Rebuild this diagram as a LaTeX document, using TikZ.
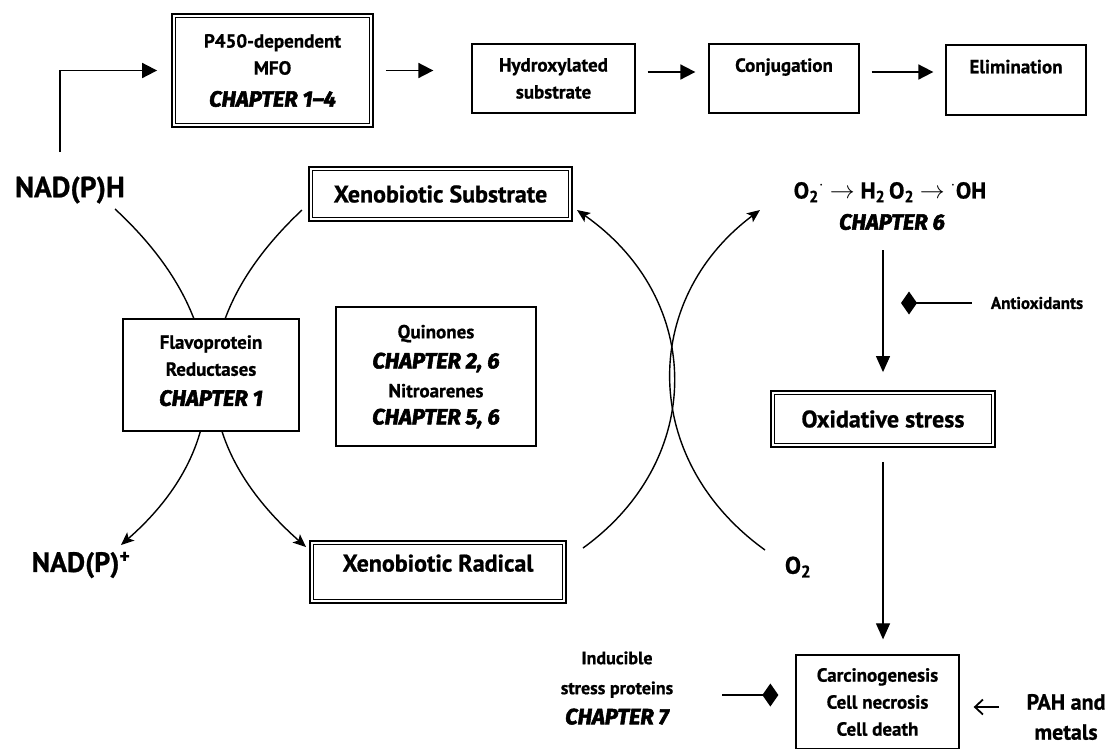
\documentclass[tikz,border=0pt]{standalone}
\usepackage{fontspec}
\setmainfont{PT Sans}[BoldFeatures={FakeBold=0.8}]
\newfontfamily\chapfont{Fira Sans}[FakeBold=2.5]
\usetikzlibrary{arrows.meta}
\pgfdeclarelayer{bg}
\pgfsetlayers{bg,main}
\newcommand\chp[1]{{\chapfont\bfseries\itshape\fontsize{22}{27}\selectfont #1}}
\begin{document}
\begin{tikzpicture}[x=1pt,y=-1pt,
  every node/.style={inner sep=1pt},
  txt/.style={font=\bfseries\fontsize{19}{27}\selectfont, align=center},
  big/.style={font=\bfseries\fontsize{24}{28}\selectfont, align=center},
  small/.style={font=\bfseries\fontsize{18}{30}\selectfont, align=center},
  sbox/.style={draw, line width=1.3pt, fill=white, txt},
  dbox/.style={draw, line width=1.8pt, fill=white,
    path picture={\draw[line width=0.8pt]
      ([shift={(3.6pt,-3.6pt)}]path picture bounding box.north west) rectangle
      ([shift={(-3.6pt,3.6pt)}]path picture bounding box.south east);}},
  arr/.style={line width=1.8pt, -{Triangle[length=15pt,width=15pt]}},
  curve/.style={line width=1.4pt, -{Stealth[length=13pt,width=11pt,inset=3pt]}},
  vline/.style={line width=1.2pt, -{Triangle[length=16pt,width=14pt]}},
  inh/.style={line width=1.4pt, -{Diamond[length=16pt,width=23pt]}},
  pah/.style={line width=1.8pt, -{Straight Barb[length=8pt,width=15pt]}}
]
\useasboundingbox (0,0) rectangle (1118,748);

% top row
\node[dbox, txt, minimum width=201pt, minimum height=113pt] (p450) at (272.5,70.5)
  {P450-dependent\\MFO\\[5pt]\chp{CHAPTER 1\textendash 4}};
\node[sbox, minimum width=163pt, minimum height=69pt] (hyd) at (553.5,78.5) {Hydroxylated\\substrate};
\node[sbox, minimum width=150pt, minimum height=69pt] (conj) at (784,78.5) {Conjugation\\\mbox{}};
\node[sbox, minimum width=140pt, minimum height=70pt] (elim) at (1016,80) {Elimination\\\mbox{}};

% left and centre
\node[font=\bfseries\fontsize{29}{30}\selectfont] (nadph) at (70,190) {NAD(P)H};
\node[font=\bfseries\fontsize{28}{30}\selectfont] (nadp) at (81,565) {NAD(P)\textsuperscript{+}};
\node[dbox, big, minimum width=263pt, minimum height=54pt] (xs) at (440.5,194) {Xenobiotic Substrate};
\node[sbox, minimum width=176pt, minimum height=112pt, text depth=9pt] (flav) at (211,375)
  {Flavoprotein\\Reductases\\[3pt]\chp{CHAPTER 1}};
\node[sbox, minimum width=200pt, minimum height=139pt] (quin) at (436,376.5)
  {Quinones\\[3pt]\chp{CHAPTER 2, 6}\\[2pt]Nitroarenes\\\chp{CHAPTER 5, 6}};
\node[dbox, big, minimum width=256pt, minimum height=62pt, text depth=18pt] (xr) at (438,572) {Xenobiotic Radical};

% right column
\node[big, font=\bfseries\fontsize{23}{28}\selectfont] (ros) at (890,192)
  {O\textsubscript{2}\textsuperscript{$\cdot$} $\rightarrow$ H\textsubscript{2}\,O\textsubscript{2} $\rightarrow$ \textsuperscript{$\cdot$}OH};
\node (ch6) at (892,222) {\chp{CHAPTER 6}};
\node[small, font=\bfseries\fontsize{17}{30}\selectfont] (antiox) at (1037,303) {Antioxidants};
\node[dbox, big, minimum width=224pt, minimum height=56pt] (oxs) at (883,419) {Oxidative stress};
\node[big] (o2) at (798,567) {O\textsubscript{2}};
\node[sbox, minimum width=163pt, minimum height=94pt] (carc) at (877.5,702)
  {Carcinogenesis\\Cell necrosis\\Cell death};
\node[small] (ind) at (617,688) {Inducible\\stress proteins\\\chp{CHAPTER 7}};
\node[font=\bfseries\fontsize{22}{30}\selectfont, align=center] (pahm) at (1066,717) {PAH and\\metals};

% coordinates for free ends
\coordinate (nadup) at (60,152);
\coordinate (a1) at (115,209);
\coordinate (a2) at (121,545);
\coordinate (b1) at (302,210);
\coordinate (b2) at (306,547);
\coordinate (c1) at (583,548);
\coordinate (c2) at (577,210);
\coordinate (d1) at (765,550);
\coordinate (d2) at (760,210);
\coordinate (antitip) at (901,303);
\coordinate (indst) at (722,695);
\coordinate (pahst) at (999,707);

% top row arrows
\draw[arr] (nadup) |- (p450.west) [shorten >=14pt];
\draw[arr, shorten <=12pt, shorten >=38pt] (p450.east) -- (p450.east -| hyd.west);
\draw[arr, shorten <=12pt, shorten >=13pt] ([yshift=6.5pt]hyd.east) -- ([yshift=6.5pt]hyd.east -| conj.west);
\draw[arr, shorten <=12pt, shorten >=12pt] ([yshift=6.5pt]conj.east) -- ([yshift=6.5pt]conj.east -| elim.west);

% redox cycle curves (behind boxes)
\begin{pgfonlayer}{bg}
\fill[white] (0,0) rectangle (1118,748);
\draw[curve] (a1) .. controls (235,320) and (235,445) .. (a2);
\draw[curve] (b1) .. controls (185,320) and (185,440) .. (b2);
\draw[curve] (c1) .. controls (705,460) and (705,300) .. (c2);
\draw[curve] (d1) .. controls (640,460) and (640,300) .. (d2);
\end{pgfonlayer}

% right column connectors
\draw[vline, shorten <=19pt, shorten >=18pt] (ch6.south -| oxs.north) -- (oxs.north);
\draw[inh, shorten <=18pt] (antiox.west) -- (antitip);
\draw[vline, shorten <=14pt, shorten >=15pt] (oxs.south) -- (oxs.south |- carc.north);
\draw[inh, shorten >=17pt] (indst) -- (indst -| carc.west);
\draw[pah, shorten >=14pt] (pahst) -- (pahst -| carc.east);
\end{tikzpicture}
\end{document}
